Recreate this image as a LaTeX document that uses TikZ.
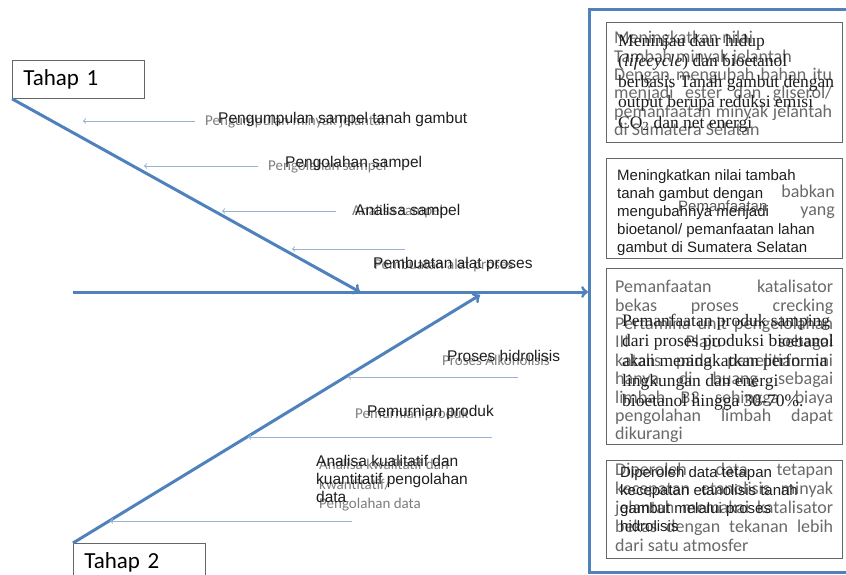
\documentclass[tikz,border=0pt]{standalone}
\usepackage{fontspec}
\setmainfont{Liberation Serif}
\newfontfamily\arialf{Liberation Sans}
\newfontfamily\calibrif{Carlito}

\definecolor{spineblue}{RGB}{79,129,189}
\definecolor{twigblue}{RGB}{149,179,215}
\definecolor{inkgray}{RGB}{30,30,30}
\definecolor{ghostgray}{RGB}{105,105,105}
\definecolor{fadegray}{RGB}{125,125,125}

\newcommand{\fullline}[1]{\makebox[218pt][s]{#1}}

\tikzset{
	spine/.style={draw=spineblue, line width=3pt, ->},
	twig/.style={draw=twigblue, line width=1pt, ->},
	tahapbox/.style={draw=black!60, line width=0.8pt, anchor=north west, inner xsep=11pt, inner ysep=0pt, text width=110pt, minimum height=38pt, align=left, font=\calibrif\fontsize{23}{26}\selectfont},
	goalbox/.style={draw=black!60, line width=0.9pt, anchor=north west, inner sep=0pt, minimum width=236pt},
	cause/.style={anchor=base west, inner sep=0pt, align=left, text=inkgray, font=\arialf\fontsize{15.5}{18}\selectfont},
	causeghost/.style={anchor=base west, inner sep=0pt, align=left, text=fadegray, font=\calibrif\fontsize{15}{20}\selectfont},
	goaltext/.style={anchor=north west, inner sep=0pt, align=left, text=inkgray},
	goalghost/.style={anchor=north west, inner sep=0pt, align=left, text=ghostgray, font=\calibrif\fontsize{18}{18.4}\selectfont}
}

\begin{document}
\begin{tikzpicture}[x=1pt, y=-1pt]
	\useasboundingbox (0,0) rectangle (846,574);

	\node[draw=spineblue, line width=2.5pt, anchor=north west, inner sep=0pt, minimum width=270pt, minimum height=563pt] (hasil) at (588,8) {};

	\node[tahapbox] (tahap1) at (12,60) {Tahap 1};
	\node[tahapbox] (tahap2) at (73,543) {Tahap 2};

	\coordinate (ekor) at (73,292);
	\coordinate (j1) at (360,292);
	\coordinate (j2) at (480,295);
	\draw[spine] (ekor) -- (ekor -| hasil.west);
	\draw[spine] (tahap1.south west) -- (j1);
	\draw[spine] (tahap2.north west) -- (j2);

	\foreach \i/\xa/\xb/\y in {1/195/83/121, 2/258/144/166, 3/336/222/211, 4/405/292/249, 5/518/348/377, 6/492/248/437, 7/352/110/521}{
		\coordinate (a\i) at (\xa,\y);
		\coordinate (b\i) at (\xb,\y);
		\draw[twig] (a\i) -- (b\i);
	}

	\node[causeghost] (g1) at (205,125) {Pengumpulan minyak jelantah};
	\node[causeghost] (g2) at (268,170) {Pengolahan sampel};
	\node[causeghost] (g3) at (352,215) {Analisa sampel};
	\node[causeghost] (g4) at (374,269) {Pembuatan alat proses};
	\node[causeghost] (g5) at (442,365) {Proses Alkoholisis};
	\node[causeghost] (g6) at (355,418) {Pemurnian produk};
	\node[causeghost, anchor=north west, font=\calibrif\fontsize{15}{19.5}\selectfont] (g7) at (319,459) {Analisa kwalitatif dan\\kwantitatif/\\Pengolahan data};

	\node[cause] (c1) at (218,123) {Pengumpulan sampel tanah gambut};
	\node[cause] (c2) at (285,167) {Pengolahan sampel};
	\node[cause] (c3) at (355,215) {Analisa sampel};
	\node[cause] (c4) at (373,268) {Pembuatan alat proses};
	\node[cause] (c5) at (447,361) {Proses hidrolisis};
	\node[cause] (c6) at (367,416) {Pemurnian produk};
	\node[cause, anchor=north west] (c7) at (316,455) {Analisa kualitatif dan\\kuantitatif pengolahan\\data};

	\node[goalbox, minimum height=120pt] (box1) at (606,22) {};
	\node[goalbox, minimum height=100pt] (box2) at (606,158) {};
	\node[goalbox, minimum height=176pt] (box3) at (606,268) {};
	\node[goalbox, minimum height=98pt] (box4) at (606,460) {};

	\node[goalghost] (gh1) at (614,31) {Meningkatkan nilai\\Tambah minyak jelantah\\\fullline{Dengan mengubah bahan itu}\\\fullline{menjadi ester dan gliserol/}\\\fullline{pemanfaatan minyak jelantah}\\di Sumatera Selatan};
	\node[goalghost, anchor=base east] (gh2a) at (835,197) {babkan};
	\node[goalghost, anchor=base east] (gh2b) at (835,215) {yang};
	\node[goalghost, anchor=base west, text=black!65, font=\arialf\fontsize{15}{18}\selectfont] (gh2c) at (678,211) {Pemanfaatan};
	\node[goalghost] (gh3) at (615,280) {\fullline{Pemanfaatan katalisator}\\\fullline{bekas proses crecking}\\\fullline{Pertamina unit pengelolahan}\\\fullline{III Plaju sebagai}\\\fullline{katalis pada penelitian ini}\\\fullline{hanya di buang sebagai}\\\fullline{limbah B3 sehingga biaya}\\\fullline{pengolahan limbah dapat}\\dikurangi};
	\node[goalghost, font=\calibrif\fontsize{18}{19}\selectfont] (gh4) at (615,463) {\fullline{Diperoleh data tetapan}\\\fullline{kecepatan etanolisis minyak}\\\fullline{jelantah memakai katalisator}\\\fullline{bekas dengan tekanan lebih}\\dari satu atmosfer};

	\node[goaltext, font=\fontsize{17.5}{20.5}\selectfont] (tx1) at (618,34) {Meninjau daur hidup\\(\textit{lifecycle}) dan bioetanol\\berbasis Tanah gambut dengan\\output berupa reduksi emisi\\CO\textsubscript{2} dan net energi};
	\node[goaltext, font=\arialf\fontsize{15}{18}\selectfont] (tx2) at (617,169) {Meningkatkan nilai tambah\\tanah gambut dengan\\mengubahnya menjadi\\bioetanol/ pemanfaatan lahan\\gambut di Sumatera Selatan};
	\node[goaltext, font=\fontsize{17.5}{20}\selectfont] (tx3) at (622,314) {Pemanfaatan produk samping\\dari proses produksi bioetanol\\akan meningkatkan performa\\lingkungan dan energi\\bioetanol hingga 30-70\%.};
	\node[goaltext, font=\arialf\fontsize{15}{18.3}\selectfont] (tx4) at (620,466) {Diperoleh data tetapan\\kecepatan etanolisis tanah\\gambut melalui proses\\hidrolisis};
\end{tikzpicture}
\end{document}
